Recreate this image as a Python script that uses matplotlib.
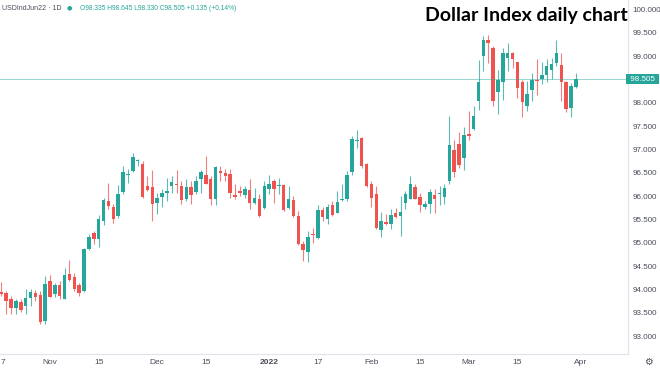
import matplotlib
matplotlib.use("Agg")
import matplotlib.pyplot as plt
import matplotlib.transforms as mtransforms
import pandas as pd

plt.rcParams["font.family"] = ["Liberation Sans", "DejaVu Sans"]

# daily bars, 18 Oct 2021 -> 31 Mar 2022
dates = pd.bdate_range("2021-10-18", "2022-03-31")

opens = [93.952, 93.923, 93.795, 93.595, 93.738, 93.652, 93.823, 93.937, 93.880, 93.332,
         94.187, 93.902, 94.101, 93.809, 94.329, 94.279, 94.094, 93.973, 94.863, 95.219,
         95.091, 95.469, 95.896, 95.775, 95.575, 96.088, 96.458, 96.537, 96.750, 96.701,
         96.230, 96.202, 95.860, 95.988, 96.074, 96.216, 96.273, 96.230, 95.931, 96.202,
         96.088, 96.359, 96.465, 96.373, 95.931, 96.551, 96.501, 96.480, 96.017, 96.110,
         96.017, 96.124, 95.860, 95.946, 95.754, 96.160, 96.323, 96.209, 96.231, 95.754,
         95.910, 95.575, 94.970, 94.806, 95.198, 95.113, 95.704, 95.504, 95.803, 95.647,
         95.917, 95.932, 96.515, 97.185, 97.249, 96.693, 96.252, 96.038, 95.276, 95.447,
         95.397, 95.632, 95.575, 95.846, 95.946, 96.202, 95.988, 95.775, 95.839, 96.017,
         96.052, 95.988, 96.323, 96.999, 97.128, 96.822, 97.313, 97.441, 98.033, 99.008,
         99.350, 99.172, 98.225, 98.439, 98.966, 99.080, 98.866, 98.439, 97.940, 98.282,
         98.489, 98.510, 98.602, 98.695, 98.852, 98.816, 98.439, 97.890, 98.335]
highs = [94.165, 93.973, 93.866, 93.795, 93.795, 94.009, 94.009, 93.994, 93.973, 94.293,
         94.308, 94.151, 94.187, 94.471, 94.635, 94.365, 94.151, 94.899, 95.184, 95.255,
         95.590, 95.967, 96.274, 95.825, 96.231, 96.644, 96.587, 96.928, 96.800, 96.750,
         96.430, 96.572, 96.074, 96.145, 96.394, 96.430, 96.558, 96.323, 96.359, 96.323,
         96.430, 96.572, 96.871, 96.430, 96.644, 96.658, 96.587, 96.587, 96.252, 96.217,
         96.217, 96.359, 96.181, 96.038, 96.323, 96.466, 96.359, 96.395, 96.252, 96.217,
         96.003, 95.682, 95.041, 95.255, 95.326, 95.803, 95.775, 95.825, 95.896, 96.110,
         96.252, 96.537, 97.285, 97.427, 97.270, 96.715, 96.323, 96.230, 95.661, 95.611,
         95.732, 95.753, 96.003, 96.109, 96.430, 96.252, 96.074, 95.896, 96.145, 96.145,
         96.230, 96.252, 97.726, 97.213, 97.370, 97.484, 97.819, 97.926, 98.923, 99.436,
         99.457, 99.222, 98.709, 99.172, 99.279, 99.101, 98.887, 98.496, 98.460, 98.638,
         98.937, 98.887, 98.937, 98.959, 99.350, 99.080, 98.460, 98.425, 98.645]
lows = [93.866, 93.474, 93.474, 93.474, 93.510, 93.474, 93.652, 93.759, 93.261, 93.261,
        93.831, 93.831, 93.809, 93.809, 94.187, 93.973, 93.866, 93.952, 94.849, 94.970,
        94.913, 95.376, 95.718, 95.433, 95.540, 96.038, 96.287, 96.515, 96.644, 95.967,
        96.109, 95.468, 95.611, 95.775, 95.896, 96.074, 96.074, 95.824, 95.896, 95.824,
        96.038, 96.060, 96.252, 95.803, 95.803, 96.323, 96.323, 95.967, 95.932, 96.003,
        95.967, 95.718, 95.825, 95.561, 95.718, 96.038, 95.860, 96.038, 95.682, 95.718,
        95.561, 94.949, 94.614, 94.593, 94.992, 95.091, 95.469, 95.397, 95.575, 95.632,
        95.896, 95.896, 96.465, 97.035, 96.608, 96.202, 95.775, 95.290, 95.134, 95.376,
        95.290, 95.540, 95.148, 95.718, 95.931, 95.931, 95.661, 95.718, 95.647, 95.632,
        95.803, 95.824, 96.252, 96.416, 96.608, 96.572, 97.214, 97.427, 97.855, 98.674,
        98.852, 97.940, 97.769, 98.054, 98.674, 98.745, 98.104, 97.698, 97.819, 98.033,
        98.175, 98.410, 98.439, 98.510, 98.781, 98.033, 97.798, 97.698, 98.330]
closes = [93.909, 93.759, 93.595, 93.752, 93.567, 93.816, 93.952, 93.852, 93.311, 94.115,
          93.845, 94.094, 93.866, 94.308, 94.201, 94.023, 93.937, 94.878, 95.134, 95.091,
          95.504, 95.917, 95.789, 95.504, 96.053, 96.515, 96.487, 96.836, 96.772, 95.988,
          96.131, 95.824, 95.967, 96.060, 96.109, 96.302, 96.245, 95.917, 96.202, 96.017,
          96.323, 96.522, 96.273, 95.931, 96.629, 96.501, 96.430, 96.074, 95.989, 96.060,
          96.160, 95.860, 95.967, 95.575, 96.217, 96.273, 96.160, 96.231, 95.704, 95.932,
          95.575, 94.970, 94.842, 95.134, 95.170, 95.704, 95.561, 95.775, 95.590, 95.875,
          95.946, 96.466, 97.228, 97.213, 96.644, 96.230, 95.967, 95.326, 95.468, 95.397,
          95.589, 95.561, 95.668, 96.038, 96.259, 95.946, 95.803, 95.832, 96.095, 95.931,
          96.074, 96.181, 97.092, 96.515, 96.679, 97.320, 97.299, 97.712, 98.439, 99.350,
          99.293, 98.033, 98.496, 99.065, 99.080, 98.937, 98.318, 98.011, 98.196, 98.496,
          98.467, 98.602, 98.781, 98.837, 99.065, 98.439, 97.869, 98.353, 98.505]

tick_dates = ["2021-11-01", "2021-11-15", "2021-12-01", "2021-12-15", "2022-01-03", "2022-01-17",
              "2022-02-01", "2022-02-15", "2022-03-01", "2022-03-15", "2022-04-01"]
tick_labels = ["Nov", "15", "Dec", "15", "2022", "17", "Feb", "15", "Mar", "15", "Apr"]
# 98.5 is covered by the last-price tag
price_ticks = [93.0, 93.5, 94.0, 94.5, 95.0, 95.5, 96.0, 96.5, 97.0, 97.5, 98.0, 99.0, 99.5, 100.0]

UP = "#26a69a"
DOWN = "#ef5350"
TEXT = "#4a4e5a"

fig = plt.figure(figsize=(6.6, 3.71), dpi=100)
ax = fig.add_axes([0, 17 / 371, 628 / 660, 354 / 371])

x = list(range(len(dates)))
colors = [UP if c >= o else DOWN for o, c in zip(opens, closes)]
ax.vlines(x, lows, highs, colors=colors, linewidth=0.8, alpha=0.75)
bottoms = [min(o, c) for o, c in zip(opens, closes)]
heights = [max(abs(c - o), 0.025) for o, c in zip(opens, closes)]
ax.bar(x, heights, bottom=bottoms, width=0.72, color=colors, linewidth=0)

last = closes[-1]
ax.axhline(last, color=UP, linewidth=0.6, alpha=0.55)

ax.set_xlim(-0.27, 128.7)
ax.set_ylim(92.62, 100.205)

for s in ["top", "left"]:
    ax.spines[s].set_visible(False)
ax.spines["right"].set_color("#e0e3eb")
ax.spines["bottom"].set_color("#e0e3eb")
ax.spines["right"].set_linewidth(0.8)
ax.spines["bottom"].set_linewidth(0.8)

ax.yaxis.tick_right()
ax.set_yticks(price_ticks)
ax.set_yticklabels([f"{p:.3f}" for p in price_ticks])
ax.tick_params(axis="y", length=0, pad=3, labelsize=5.8, labelcolor=TEXT)

tick_pos = dates.searchsorted(pd.to_datetime(tick_dates))
ax.set_xticks(tick_pos)
ax.set_xticklabels(tick_labels)
ax.tick_params(axis="x", length=0, pad=3.5, labelsize=6, labelcolor=TEXT)
for lbl in ax.get_xticklabels():
    if lbl.get_text() == "2022":
        lbl.set_fontweight("bold")

# clipped label at the left edge
fig.text(3 / 660, 1 - 362 / 371, "7", fontsize=6, color=TEXT, ha="center", va="center")
fig.text(648 / 660, 1 - 362 / 371, "\u2699", fontsize=7, color=TEXT, ha="center", va="center",
         family="DejaVu Sans")

# last price tag on the scale
trans = mtransforms.blended_transform_factory(ax.transAxes, ax.transData)
ax.text(1.0, last, f" {last:.3f} ", transform=trans, ha="left", va="center", fontsize=5.8,
        color="white", clip_on=False,
        bbox=dict(boxstyle="square,pad=0.2", fc=UP, ec="none"))

# header
fig.text(2 / 660, 1 - 8 / 371, "USDIndJun22 \u00b7 1D", fontsize=5.0, color=TEXT, va="center")
fig.text(69 / 660, 1 - 8 / 371, "\u25cf", fontsize=4.5, color=UP, va="center", ha="center",
         family="DejaVu Sans")
fig.text(80 / 660, 1 - 8 / 371, "O98.335 H98.645 L98.330 C98.505 +0.135 (+0.14%)",
         fontsize=4.8, color=UP, va="center")
fig.text(628 / 660, 1 - 15 / 371, "Dollar Index daily chart", fontsize=14, fontweight="bold",
         family="Lato", color="black", ha="right", va="center")

fig.savefig("out.png", dpi=100)
